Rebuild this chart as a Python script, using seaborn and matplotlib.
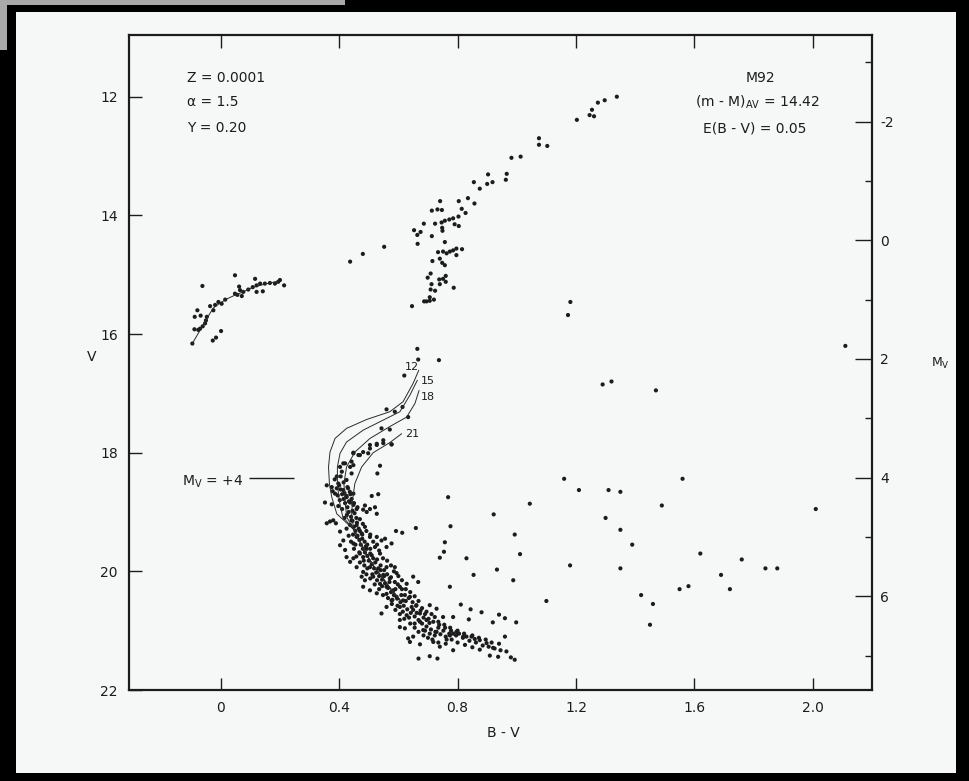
import matplotlib
matplotlib.use("Agg")
import matplotlib.pyplot as plt
import pandas as pd
import seaborn as sns
from matplotlib.patches import Rectangle

# M92 colour-magnitude diagram with isochrones

distance_modulus = 14.42

# horizontal branch stars (B-V, V)
hb_stars = [(0.048, 15.01), (0.116, 15.07), (-0.062, 15.19), (0.214, 15.18), (0.194, 15.12),
            (0.200, 15.09), (0.183, 15.15), (0.166, 15.14), (0.149, 15.15), (0.133, 15.15),
            (0.121, 15.18), (0.108, 15.21), (0.093, 15.25), (0.076, 15.29), (0.065, 15.26),
            (0.062, 15.20), (0.056, 15.34), (0.071, 15.36), (0.048, 15.32), (0.121, 15.29),
            (0.142, 15.28), (0.015, 15.42), (0.003, 15.49), (-0.008, 15.46), (-0.019, 15.51),
            (-0.036, 15.53), (-0.025, 15.60), (-0.079, 15.60), (-0.088, 15.71), (-0.068, 15.69),
            (-0.047, 15.71), (-0.050, 15.77), (-0.053, 15.82), (-0.061, 15.87), (-0.070, 15.91),
            (-0.089, 15.92), (-0.076, 15.93), (0.001, 15.95), (-0.016, 16.06), (-0.027, 16.11),
            (-0.096, 16.16)]

# red giant and subgiant branch
rgb_stars = [(1.338, 12.00), (1.297, 12.06), (1.274, 12.10), (1.254, 12.22), (1.246, 12.31),
             (1.261, 12.33), (1.203, 12.39), (1.075, 12.70), (1.075, 12.81), (1.103, 12.83),
             (0.982, 13.03), (1.013, 13.01), (0.903, 13.31), (0.966, 13.30), (0.963, 13.40),
             (0.855, 13.44), (0.900, 13.47), (0.918, 13.44), (0.875, 13.55), (0.741, 13.76),
             (0.804, 13.76), (0.835, 13.71), (0.857, 13.80), (0.713, 13.92), (0.732, 13.90),
             (0.747, 13.91), (0.814, 13.89), (0.827, 13.96), (0.686, 14.14), (0.724, 14.14),
             (0.746, 14.12), (0.757, 14.09), (0.772, 14.07), (0.785, 14.05), (0.803, 14.02),
             (0.804, 14.18), (0.790, 14.15), (0.748, 14.21), (0.749, 14.26), (0.653, 14.25),
             (0.675, 14.28), (0.664, 14.33), (0.713, 14.35), (0.665, 14.48), (0.552, 14.53),
             (0.480, 14.65), (0.437, 14.78), (0.757, 14.45), (0.734, 14.62), (0.751, 14.61),
             (0.763, 14.64), (0.774, 14.61), (0.785, 14.59), (0.796, 14.56), (0.815, 14.57),
             (0.796, 14.67), (0.740, 14.73), (0.715, 14.77), (0.748, 14.80), (0.757, 14.84),
             (0.709, 14.98), (0.699, 15.05), (0.738, 15.08), (0.751, 15.07), (0.760, 15.02),
             (0.760, 15.12), (0.712, 15.16), (0.740, 15.16), (0.709, 15.25), (0.724, 15.27),
             (0.787, 15.22), (0.706, 15.38), (0.687, 15.45), (0.695, 15.45), (0.706, 15.44),
             (0.720, 15.42), (0.646, 15.53), (0.664, 16.25), (0.667, 16.43), (0.737, 16.44),
             (0.620, 16.70), (0.560, 17.27), (0.588, 17.31), (0.614, 17.23), (0.633, 17.40),
             (0.543, 17.59), (0.571, 17.61), (0.504, 17.87), (0.527, 17.85), (0.549, 17.79),
             (0.577, 17.86), (0.498, 18.01), (0.470, 18.04), (0.448, 18.00), (0.442, 18.15),
             (0.414, 18.18), (0.403, 18.24)]

# turnoff and main sequence
ms_stars = [(0.538, 18.22), (0.529, 18.35), (0.510, 18.73), (0.532, 18.70), (0.481, 18.96),
            (0.659, 19.27), (0.613, 19.35), (0.592, 19.32), (0.811, 20.56), (0.881, 20.69),
            (0.844, 20.64), (0.838, 20.81), (0.919, 20.86), (0.940, 20.73), (0.960, 20.79),
            (0.998, 20.86), (0.960, 21.10), (0.980, 21.45), (0.993, 21.49), (0.668, 21.47),
            (0.706, 21.43), (0.732, 21.47), (0.909, 21.42), (0.937, 21.44), (0.847, 21.10),
            (0.875, 21.16), (0.898, 21.21), (0.920, 21.29), (0.819, 21.10), (0.785, 21.05),
            (0.796, 21.02), (0.774, 21.08), (0.763, 21.15), (0.785, 21.33), (0.740, 21.27),
            (0.718, 21.19), (0.673, 21.23), (0.633, 21.13), (0.639, 21.19), (0.650, 21.10),
            (0.706, 21.05), (0.723, 21.08), (0.729, 21.02), (0.684, 20.99), (0.622, 20.96),
            (0.605, 20.94), (0.673, 20.85), (0.695, 20.82), (0.723, 20.77), (0.751, 20.77),
            (0.785, 20.77), (0.706, 20.57), (0.729, 20.63), (0.661, 20.57), (0.650, 20.65),
            (0.673, 20.71), (0.628, 20.74), (0.605, 20.82), (0.616, 20.49), (0.639, 20.43),
            (0.594, 20.43), (0.605, 20.60), (0.577, 20.49), (0.560, 20.60), (0.543, 20.71),
            (0.560, 20.26), (0.583, 20.32), (0.605, 20.26), (0.628, 20.21), (0.650, 20.09),
            (0.667, 20.18), (0.538, 20.21), (0.527, 20.37), (0.504, 20.32), (0.481, 20.26),
            (0.487, 20.15), (0.515, 20.09), (0.549, 20.06), (0.571, 20.12), (0.594, 20.03),
            (0.588, 19.93), (0.560, 19.93), (0.532, 19.95), (0.504, 19.93), (0.481, 20.01),
            (0.476, 20.09), (0.459, 19.93), (0.448, 19.78), (0.481, 19.76), (0.510, 19.73),
            (0.538, 19.70), (0.560, 19.59), (0.543, 19.48), (0.521, 19.59), (0.493, 19.62),
            (0.470, 19.70), (0.425, 19.76), (0.437, 19.84), (0.420, 19.64), (0.403, 19.56),
            (0.414, 19.48), (0.448, 19.53), (0.459, 19.42), (0.476, 19.36), (0.504, 19.42),
            (0.527, 19.42), (0.555, 19.45), (0.577, 19.53), (0.487, 19.25), (0.459, 19.22),
            (0.442, 19.14), (0.403, 19.33), (0.389, 19.19), (0.369, 19.16), (0.358, 19.19),
            (0.380, 19.14), (0.487, 18.89), (0.504, 18.95), (0.521, 18.92), (0.527, 19.03),
            (0.493, 19.00), (0.459, 18.95), (0.437, 18.84), (0.425, 18.73), (0.352, 18.84),
            (0.375, 18.87), (0.397, 18.90), (0.448, 18.69), (0.414, 18.63), (0.386, 18.69),
            (0.358, 18.55), (0.375, 18.58), (0.397, 18.52), (0.425, 18.46), (0.442, 18.35),
            (0.448, 18.21), (0.437, 18.24), (0.420, 18.18), (0.409, 18.32), (0.392, 18.40),
            (0.448, 18.01), (0.465, 18.04), (0.481, 17.99), (0.504, 17.93), (0.527, 17.87),
            (0.549, 17.84), (0.577, 17.86),
            (0.400, 18.55), (0.405, 18.62), (0.410, 18.70), (0.415, 18.78), (0.420, 18.85),
            (0.428, 18.92), (0.432, 19.00), (0.440, 19.08), (0.445, 19.15), (0.450, 19.25),
            (0.455, 19.32), (0.462, 19.40), (0.468, 19.47), (0.473, 19.55), (0.480, 19.62),
            (0.487, 19.68), (0.495, 19.74), (0.500, 19.82), (0.510, 19.88), (0.518, 19.95),
            (0.525, 20.02), (0.535, 20.08), (0.545, 20.14), (0.555, 20.20), (0.565, 20.28),
            (0.575, 20.35), (0.585, 20.40), (0.596, 20.46), (0.607, 20.52), (0.618, 20.58),
            (0.630, 20.64), (0.642, 20.70), (0.655, 20.76), (0.668, 20.82), (0.680, 20.88),
            (0.695, 20.93), (0.710, 20.98), (0.725, 21.02), (0.742, 21.06), (0.760, 21.10),
            (0.780, 21.15), (0.800, 21.20), (0.825, 21.24), (0.850, 21.28), (0.875, 21.32),
            (0.392, 18.60), (0.418, 18.68), (0.425, 18.75), (0.402, 18.80), (0.433, 18.82),
            (0.445, 18.98), (0.426, 19.05), (0.458, 19.10), (0.437, 19.22), (0.466, 19.28),
            (0.447, 19.38), (0.478, 19.45), (0.455, 19.55), (0.490, 19.58), (0.468, 19.68),
            (0.505, 19.70), (0.483, 19.82), (0.522, 19.85), (0.495, 19.95), (0.540, 19.98),
            (0.512, 20.05), (0.552, 20.08), (0.528, 20.15), (0.570, 20.18), (0.545, 20.25),
            (0.590, 20.30), (0.560, 20.38), (0.610, 20.40), (0.580, 20.48), (0.625, 20.50),
            (0.597, 20.58), (0.645, 20.60), (0.615, 20.68), (0.662, 20.70), (0.636, 20.78),
            (0.685, 20.78), (0.655, 20.88), (0.705, 20.87), (0.690, 21.00), (0.735, 20.95),
            (0.752, 21.00), (0.772, 21.05), (0.795, 21.08), (0.818, 21.12), (0.840, 21.17),
            (0.862, 21.20), (0.885, 21.25), (0.905, 21.27), (0.925, 21.30), (0.945, 21.33),
            (0.965, 21.35),
            (0.385, 18.45), (0.378, 18.65), (0.395, 18.72), (0.410, 18.95), (0.418, 19.10),
            (0.425, 19.28), (0.432, 19.40), (0.440, 19.50), (0.450, 19.62), (0.458, 19.75),
            (0.470, 19.85), (0.485, 19.90), (0.492, 20.05), (0.505, 20.12), (0.520, 20.22),
            (0.535, 20.30), (0.548, 20.40), (0.565, 20.45), (0.578, 20.55), (0.590, 20.65),
            (0.605, 20.72), (0.620, 20.80), (0.640, 20.88), (0.655, 20.95), (0.668, 21.02),
            (0.685, 21.08), (0.700, 21.12), (0.715, 21.15), (0.735, 21.20), (0.760, 21.22),
            (0.430, 18.60), (0.438, 18.70), (0.450, 18.85), (0.462, 18.92), (0.470, 19.12),
            (0.480, 19.20), (0.492, 19.32), (0.505, 19.38), (0.515, 19.50), (0.528, 19.55),
            (0.535, 19.65), (0.548, 19.78), (0.562, 19.82), (0.575, 19.90), (0.585, 20.00),
            (0.600, 20.08), (0.612, 20.15), (0.625, 20.30), (0.640, 20.35), (0.655, 20.42),
            (0.668, 20.50), (0.680, 20.62), (0.695, 20.68), (0.712, 20.72), (0.735, 20.85),
            (0.755, 20.90), (0.775, 20.95), (0.800, 21.00), (0.822, 21.05), (0.850, 21.08),
            (0.872, 21.12), (0.895, 21.15), (0.915, 21.20), (0.940, 21.22),
            (0.405, 18.40), (0.415, 18.50), (0.428, 18.58), (0.436, 18.66), (0.442, 18.78),
            (0.448, 18.88), (0.452, 19.02), (0.460, 19.18), (0.470, 19.32), (0.478, 19.38),
            (0.486, 19.50), (0.495, 19.55), (0.505, 19.62), (0.515, 19.78), (0.528, 19.80),
            (0.540, 19.90), (0.552, 19.98), (0.562, 20.05), (0.575, 20.10), (0.588, 20.18),
            (0.598, 20.22), (0.612, 20.30), (0.622, 20.40), (0.635, 20.45), (0.648, 20.52),
            (0.660, 20.58), (0.675, 20.66), (0.690, 20.72), (0.702, 20.80), (0.718, 20.85),
            (0.738, 20.90), (0.758, 20.95), (0.778, 21.00), (0.805, 21.05), (0.830, 21.10),
            (0.858, 21.14)]

# field stars scattered to the red
field_stars = [(1.181, 15.46), (1.173, 15.68), (1.29, 16.85), (1.32, 16.80), (1.47, 16.95),
               (2.11, 16.20), (0.768, 18.75), (0.922, 19.04), (1.044, 18.86), (0.776, 19.24),
               (0.993, 19.38), (0.757, 19.51), (0.754, 19.67), (0.740, 19.77), (0.830, 19.78),
               (1.011, 19.71), (0.933, 19.97), (0.854, 20.06), (0.988, 20.15), (0.774, 20.26),
               (1.16, 18.44), (1.21, 18.63), (1.31, 18.63), (1.35, 18.66), (1.56, 18.44),
               (1.49, 18.89), (2.01, 18.95), (1.35, 19.30), (1.39, 19.55), (1.42, 20.40),
               (1.46, 20.55), (1.55, 20.30), (1.58, 20.25), (1.69, 20.06), (1.76, 19.80),
               (1.84, 19.95), (1.88, 19.95), (1.72, 20.30), (1.45, 20.90), (1.35, 19.95),
               (1.10, 20.50), (1.18, 19.90), (1.30, 19.10), (1.62, 19.70)]

# isochrones (Gyr) and horizontal branch fit
iso_ages = ["12", "15", "18", "21"]
iso_12 = [(0.669, 16.61), (0.650, 16.83), (0.616, 17.14), (0.571, 17.31), (0.493, 17.44),
          (0.425, 17.59), (0.386, 17.76), (0.369, 17.99), (0.364, 18.24), (0.367, 18.52),
          (0.375, 18.75), (0.392, 19.03)]
iso_15 = [(0.664, 16.78), (0.639, 17.03), (0.605, 17.31), (0.549, 17.45), (0.481, 17.62),
          (0.425, 17.82), (0.403, 18.01), (0.394, 18.24), (0.394, 18.52), (0.400, 18.80),
          (0.412, 19.08)]
iso_18 = [(0.670, 16.95), (0.656, 17.17), (0.628, 17.40), (0.571, 17.56), (0.504, 17.76),
          (0.453, 17.99), (0.425, 18.24), (0.416, 18.52), (0.420, 18.80), (0.425, 19.08)]
iso_21 = [(0.611, 17.68), (0.571, 17.83), (0.515, 18.00), (0.476, 18.24), (0.453, 18.52),
          (0.445, 18.80), (0.442, 19.08)]
iso_ms = [(0.450, 19.30), (0.470, 19.50), (0.490, 19.70), (0.515, 19.90), (0.545, 20.10),
          (0.575, 20.30), (0.605, 20.48)]
hb_fit = [(-0.096, 16.16), (-0.075, 15.98), (-0.059, 15.85), (-0.040, 15.68), (-0.025, 15.56),
          (0.000, 15.47), (0.020, 15.41), (0.050, 15.34), (0.076, 15.29), (0.105, 15.22),
          (0.133, 15.18), (0.165, 15.14), (0.194, 15.11)]

stars = pd.DataFrame(hb_stars + rgb_stars + ms_stars + field_stars, columns=["bv", "v"])

curves = []
for age, pts in zip(iso_ages, [iso_12, iso_15, iso_18, iso_21]):
    for bv, v in pts + iso_ms:
        curves.append((age, bv, v))
for bv, v in hb_fit:
    curves.append(("hb", bv, v))
curves = pd.DataFrame(curves, columns=["curve", "bv", "v"])

sns.set_style("ticks")
plt.rcParams["font.family"] = ["DejaVu Sans"]
plt.rcParams["axes.unicode_minus"] = False
ink = "#1c1c1c"

W, H = 969, 781
fig = plt.figure(figsize=(W / 100, H / 100), dpi=100, facecolor="black")
# scanned page: black frame, grey scrap top left
fig.add_artist(Rectangle((16 / W, 1 - 773 / H), 940 / W, 761 / H, transform=fig.transFigure,
                         facecolor="#f6f8f7", edgecolor="none", zorder=0))
fig.add_artist(Rectangle((0, 1 - 5 / H), 345 / W, 5 / H, transform=fig.transFigure,
                         facecolor="#a9a9a9", edgecolor="none", zorder=0))
fig.add_artist(Rectangle((0, 1 - 50 / H), 7 / W, 50 / H, transform=fig.transFigure,
                         facecolor="#a9a9a9", edgecolor="none", zorder=0))

ax = fig.add_axes([129 / W, 1 - 690 / H, 743 / W, 655 / H])
ax.set_facecolor("none")

sns.lineplot(data=curves, x="bv", y="v", units="curve", estimator=None, sort=False,
             color="#2a2a2a", lw=0.7, ax=ax)
sns.scatterplot(data=stars, x="bv", y="v", s=9, color=ink, edgecolor="none", ax=ax)

ax.set_xlim(-0.31, 2.20)
ax.set_ylim(22, 10.96)
ax.set_xticks([0, 0.4, 0.8, 1.2, 1.6, 2.0])
ax.set_xticklabels(["0", "0.4", "0.8", "1.2", "1.6", "2.0"])
ax.set_yticks([12, 14, 16, 18, 20, 22])
ax.set_xlabel("")
ax.set_ylabel("")
ax.tick_params(axis="both", direction="in", length=9, width=1.0, colors=ink, labelsize=10,
               top=True, right=False, pad=8)
for s in ax.spines.values():
    s.set_linewidth(1.6)
    s.set_color(ink)

ax2 = ax.twinx()
ax2.set_ylim(22 - distance_modulus, 10.96 - distance_modulus)
ax2.set_yticks([-2, 0, 2, 4, 6])
ax2.set_yticks([-3, -1, 1, 3, 5, 7], minor=True)
ax2.tick_params(axis="y", which="major", direction="in", length=12, width=1.0, colors=ink,
                labelsize=10, pad=6)
ax2.tick_params(axis="y", which="minor", direction="in", length=5, width=1.0, colors=ink)
for s in ax2.spines.values():
    s.set_visible(False)


def px_text(x, y, s, **kw):
    fig.text(x / W, 1 - y / H, s, color=ink, **kw)


px_text(92, 357, "V", fontsize=10, ha="center", va="center")
px_text(940, 363, "M$_\\mathregular{V}$", fontsize=9, ha="center", va="center")
px_text(503, 733, "B - V", fontsize=10, ha="center", va="center")

px_text(187, 78, "Z = 0.0001", fontsize=10, ha="left", va="center")
px_text(187, 102, "α = 1.5", fontsize=10, ha="left", va="center")
px_text(187, 128, "Y = 0.20", fontsize=10, ha="left", va="center")
px_text(760, 78, "M92", fontsize=10, ha="center", va="center")
px_text(757, 102, "(m - M)$_\\mathregular{AV}$ = 14.42", fontsize=10, ha="center", va="center")
px_text(755, 128, "E(B - V) = 0.05", fontsize=10, ha="center", va="center")

# isochrone age labels
for age, (x, y) in zip(iso_ages, [(412, 367), (428, 381), (428, 397), (412, 434)]):
    px_text(x, y, age, fontsize=8, ha="center", va="center")

# turnoff marker
px_text(182, 482, "M$_\\mathregular{V}$ = +4", fontsize=10, ha="left", va="center")
ax.hlines(4 + distance_modulus, 0.095, 0.247, color=ink, lw=1.0)

fig.savefig("out.png", dpi=100, facecolor=fig.get_facecolor())
